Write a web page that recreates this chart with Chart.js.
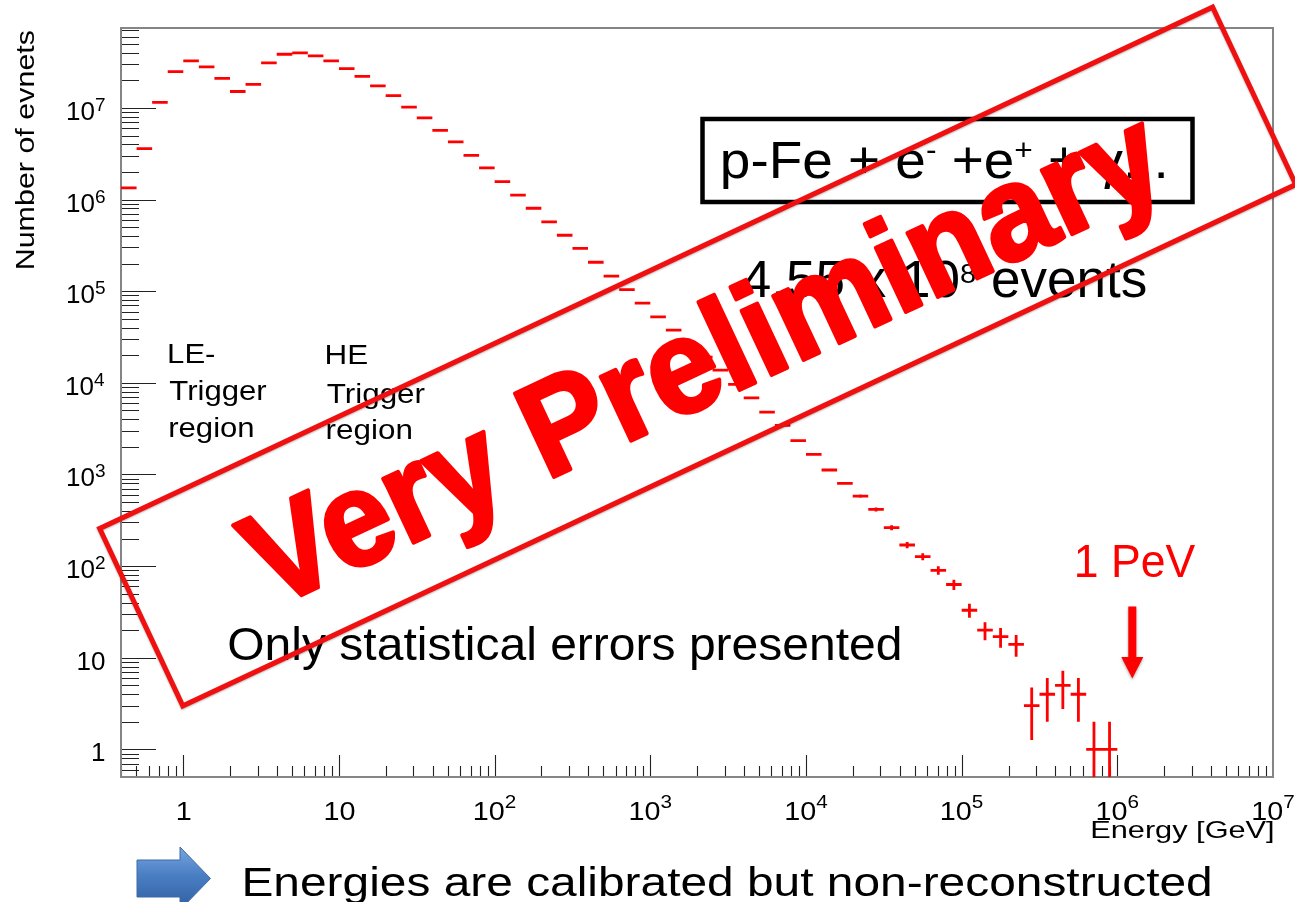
<!DOCTYPE html>
<html>
<head>
<meta charset="utf-8">
<title>Number of events vs energy</title>
<script src="https://cdn.jsdelivr.net/npm/chart.js@4.4.0/dist/chart.umd.min.js"></script>
<style>
  html, body { margin: 0; padding: 0; background: #ffffff; }
  canvas { display: block; }
</style>
</head>
<body>
<canvas id="spectrum" width="1295" height="902"></canvas>
<script>
// ---- histogram: bin centres (log10 of energy in GeV) and event counts ----
const binCentersLog10 = [
  -0.35, -0.25, -0.15, -0.05, 0.05, 0.15, 0.25, 0.35, 0.45, 0.55,
  0.65, 0.75, 0.85, 0.95, 1.05, 1.15, 1.25, 1.35, 1.45, 1.55,
  1.65, 1.75, 1.85, 1.95, 2.05, 2.15, 2.25, 2.35, 2.45, 2.55,
  2.65, 2.75, 2.85, 2.95, 3.05, 3.15, 3.25, 3.35, 3.45, 3.55,
  3.65, 3.75, 3.85, 3.95, 4.05, 4.15, 4.25, 4.35, 4.45, 4.55,
  4.65, 4.75, 4.85, 4.95, 5.05, 5.15, 5.25, 5.35, 5.45, 5.55,
  5.65, 5.75, 5.85, 5.95
];
const eventCounts = [
  1340000, 3600000, 11500000, 24900000, 32600000, 28000000, 21000000, 15100000, 18100000, 31000000,
  38500000, 39800000, 36900000, 32600000, 26800000, 22100000, 17400000, 13600000, 10200000, 7780000,
  5700000, 4260000, 3040000, 2220000, 1570000, 1120000, 804000, 571000, 408000, 293000,
  207000, 146000, 104000, 74000, 52600, 37600, 26700, 19100, 13800, 9600,
  6870, 4790, 3430, 2340, 1660, 1120, 800, 581, 416, 263,
  170, 127, 90, 63, 33, 20, 17, 14, 3, 4,
  5, 4, 1, 1
];
const binWidthLog10 = 0.1;

// ---- axis ranges and tick labels ----
const xRange = [0.398, 1e7];
const yRange = [0.5, 7.45e7];
const xTickValues = [1, 10, 100, 1e3, 1e4, 1e5, 1e6, 1e7];
const xTickLabels = ['1', '10', '10^2', '10^3', '10^4', '10^5', '10^6', '10^7'];
const yTickValues = [1, 10, 100, 1e3, 1e4, 1e5, 1e6, 1e7];
const yTickLabels = ['1', '10', '10^2', '10^3', '10^4', '10^5', '10^6', '10^7'];
const xAxisTitle = 'Energy [GeV]';
const yAxisTitle = 'Number of evnets';

const FONT = '"Liberation Sans", Arial, Helvetica, sans-serif';
const RED = '#ff0000';

// ---------- text helpers (runs allow raised exponents) ----------
function layoutRuns(ctx, runs, weight) {
  let pos = 0, inkL = Infinity, inkR = -Infinity;
  const placed = runs.map(r => {
    ctx.font = `${weight} ${r.size}px ${FONT}`;
    const m = ctx.measureText(r.text);
    const p = Object.assign({}, r, { x: pos });
    inkL = Math.min(inkL, pos - m.actualBoundingBoxLeft);
    inkR = Math.max(inkR, pos + m.actualBoundingBoxRight);
    pos += m.width;
    return p;
  });
  return { placed, inkL, inkR };
}

function drawRuns(ctx, runs, o) {
  const weight = o.weight || 'normal';
  const { placed, inkL, inkR } = layoutRuns(ctx, runs, weight);
  const sx = o.width ? o.width / (inkR - inkL) : (o.sx || 1);
  const anchor = o.align === 'right' ? inkR : (o.align === 'center' ? (inkL + inkR) / 2 : inkL);
  ctx.save();
  ctx.translate(o.x, o.y);
  if (o.rotate) ctx.rotate(o.rotate);
  ctx.scale(sx, 1);
  ctx.textAlign = 'left';
  ctx.textBaseline = 'alphabetic';
  ctx.fillStyle = o.color || '#000';
  for (const p of placed) {
    ctx.font = `${weight} ${p.size}px ${FONT}`;
    if (o.strokeWidth) {
      ctx.strokeStyle = o.color;
      ctx.lineWidth = o.strokeWidth;
      ctx.lineJoin = 'round';
      ctx.strokeText(p.text, p.x - anchor, -(p.rise || 0));
    }
    ctx.fillText(p.text, p.x - anchor, -(p.rise || 0));
  }
  ctx.restore();
  return sx;
}

function labelRuns(label, size, supSize, rise) {
  const parts = label.split('^');
  const runs = [{ text: parts[0], size }];
  if (parts.length > 1) runs.push({ text: parts[1], size: supSize, rise });
  return runs;
}

// ---------- frame, ticks and tick labels (ROOT style, ticks inside) ----------
const framePlugin = {
  id: 'frameAxes',
  afterDatasetsDraw(chart) {
    const { ctx, chartArea: a, scales: { x, y } } = chart;
    ctx.save();
    ctx.strokeStyle = '#222';
    ctx.lineWidth = 1.1;
    ctx.beginPath();
    for (let d = -1; d <= 7; d++) {
      for (let k = 1; k <= 9; k++) {
        const v = k * Math.pow(10, d);
        if (v > xRange[0] * 1.001 && v < xRange[1] * 0.999) {
          const px = Math.round(x.getPixelForValue(v)) + 0.5;
          const len = k === 1 ? 22 : 11;
          ctx.moveTo(px, a.bottom);
          ctx.lineTo(px, a.bottom - len);
        }
        if (v > yRange[0] * 1.001 && v < yRange[1] * 0.999) {
          const py = Math.round(y.getPixelForValue(v)) + 0.5;
          const len = k === 1 ? 35 : 18;
          ctx.moveTo(a.left, py);
          ctx.lineTo(a.left + len, py);
        }
      }
    }
    ctx.stroke();
    ctx.strokeStyle = '#858585';
    ctx.lineWidth = 2;
    ctx.strokeRect(a.left, a.top, a.right - a.left, a.bottom - a.top);
    ctx.restore();

    // tick labels
    xTickValues.forEach((v, i) => {
      drawRuns(ctx, labelRuns(xTickLabels[i], 25, 18, 12),
        { x: x.getPixelForValue(v) + 0.5, y: 820, align: 'center', sx: 1.15 });
    });
    yTickValues.forEach((v, i) => {
      drawRuns(ctx, labelRuns(yTickLabels[i], 26, 19, 9),
        { x: 105, y: y.getPixelForValue(v) + 12, align: 'right' });
    });

    // axis titles
    drawRuns(ctx, [{ text: xAxisTitle, size: 24 }], { x: 1272.5, y: 838, align: 'right', width: 181 });
    drawRuns(ctx, [{ text: yAxisTitle, size: 26 }], { x: 33.5, y: 268, align: 'left', width: 238, rotate: -Math.PI / 2 });
  }
};

// ---------- histogram drawn as error crosses ----------
const errorBarPlugin = {
  id: 'errorCrosses',
  afterDatasetsDraw(chart) {
    const { ctx, chartArea: a, scales: { x, y } } = chart;
    ctx.save();
    ctx.beginPath();
    ctx.rect(a.left, a.top, a.right - a.left, a.bottom - a.top);
    ctx.clip();
    ctx.strokeStyle = RED;
    ctx.lineWidth = 2.8;
    ctx.lineCap = 'butt';
    ctx.beginPath();
    binCentersLog10.forEach((c, i) => {
      const n = eventCounts[i];
      const err = Math.sqrt(n);
      const xl = x.getPixelForValue(Math.pow(10, c - binWidthLog10 / 2));
      const xr = x.getPixelForValue(Math.pow(10, c + binWidthLog10 / 2));
      const xc = x.getPixelForValue(Math.pow(10, c));
      const py = y.getPixelForValue(n);
      ctx.moveTo(xl, py);
      ctx.lineTo(xr, py);
      const yHi = y.getPixelForValue(n + err);
      const yLo = n - err > 0 ? y.getPixelForValue(n - err) : a.bottom;
      if (yLo - yHi > 1) {
        ctx.moveTo(xc, yHi);
        ctx.lineTo(xc, yLo);
      }
    });
    ctx.stroke();
    ctx.restore();
  }
};

// ---------- annotations, arrows and the stamp ----------
const annotationPlugin = {
  id: 'annotations',
  afterDraw(chart) {
    const ctx = chart.ctx;

    // trigger region notes
    const sxLE = drawRuns(ctx, [{ text: 'Trigger', size: 28 }], { x: 169.3, y: 400, width: 97 });
    drawRuns(ctx, [{ text: 'LE-', size: 28 }], { x: 169.3, y: 363.3, sx: sxLE });
    drawRuns(ctx, [{ text: 'region', size: 28 }], { x: 169.3, y: 436.7, sx: sxLE });
    const sxHE = drawRuns(ctx, [{ text: 'Trigger', size: 28 }], { x: 326.7, y: 403.3, width: 98 });
    drawRuns(ctx, [{ text: 'HE', size: 28 }], { x: 326.7, y: 364.3, sx: sxHE });
    drawRuns(ctx, [{ text: 'region', size: 28 }], { x: 326.7, y: 439, sx: sxHE });

    // reaction box
    ctx.save();
    ctx.strokeStyle = '#000';
    ctx.lineWidth = 4.5;
    ctx.strokeRect(702.5, 119, 490, 83);
    ctx.restore();
    drawRuns(ctx, [
      { text: 'p-Fe + e', size: 52 },
      { text: '-', size: 30, rise: 18 },
      { text: ' +e', size: 52 },
      { text: '+', size: 30, rise: 18 },
      { text: ' + \u03b3...', size: 52 }
    ], { x: 723, y: 178.3, width: 441 });

    drawRuns(ctx, [
      { text: '4.55 x 10', size: 51 },
      { text: '8', size: 28, rise: 14 },
      { text: ' events', size: 51 }
    ], { x: 742.7, y: 296.7, width: 403 });

    drawRuns(ctx, [{ text: 'Only statistical errors presented', size: 47 }], { x: 229.3, y: 660, width: 671 });

    // 1 PeV marker
    drawRuns(ctx, [{ text: '1 PeV', size: 47 }], { x: 1076.7, y: 576.7, width: 119, color: RED });
    ctx.save();
    ctx.shadowColor = 'rgba(0,0,0,0.35)';
    ctx.shadowBlur = 3;
    ctx.shadowOffsetY = 1.5;
    ctx.fillStyle = RED;
    ctx.beginPath();
    ctx.moveTo(1128.3, 606.5);
    ctx.lineTo(1136.3, 606.5);
    ctx.lineTo(1136.3, 657);
    ctx.lineTo(1143.3, 657);
    ctx.lineTo(1132.3, 678.5);
    ctx.lineTo(1121.3, 657);
    ctx.lineTo(1128.3, 657);
    ctx.closePath();
    ctx.fill();
    ctx.restore();

    // footer note with blue arrow
    ctx.save();
    const g = ctx.createLinearGradient(0, 846, 0, 910);
    g.addColorStop(0, '#7aa6e0');
    g.addColorStop(0.45, '#4a7fc4');
    g.addColorStop(1, '#2f5e9f');
    ctx.fillStyle = g;
    ctx.strokeStyle = '#3d6aa8';
    ctx.lineWidth = 1;
    ctx.beginPath();
    ctx.moveTo(137, 860);
    ctx.lineTo(180, 860);
    ctx.lineTo(180, 847);
    ctx.lineTo(210.5, 878.5);
    ctx.lineTo(180, 910);
    ctx.lineTo(180, 897);
    ctx.lineTo(137, 897);
    ctx.closePath();
    ctx.fill();
    ctx.stroke();
    ctx.restore();
    drawRuns(ctx, [{ text: 'Energies are calibrated but non-reconstructed', size: 40 }], { x: 245, y: 896, width: 965 });

    // stamp
    ctx.save();
    ctx.translate(697.7, 356.5);
    ctx.rotate(-25.1 * Math.PI / 180);
    ctx.save();
    ctx.shadowColor = 'rgba(0,0,0,0.3)';
    ctx.shadowBlur = 2;
    ctx.shadowOffsetY = 1;
    ctx.strokeStyle = '#f01010';
    ctx.lineWidth = 5;
    ctx.lineJoin = 'miter';
    ctx.strokeRect(-614.5, -98, 1229, 196);
    ctx.restore();
    drawRuns(ctx, [{ text: 'Very Preliminary', size: 134 }],
      { x: 4, y: 48, align: 'center', width: 995, weight: 'bold', color: RED, strokeWidth: 4 });
    ctx.restore();
  }
};

new Chart(document.getElementById('spectrum'), {
  type: 'scatter',
  data: {
    datasets: [{
      label: yAxisTitle,
      data: binCentersLog10.map((c, i) => ({ x: Math.pow(10, c), y: eventCounts[i] })),
      pointRadius: 0,
      pointHoverRadius: 0,
      showLine: false,
      borderColor: RED,
      backgroundColor: RED
    }]
  },
  options: {
    responsive: false,
    animation: false,
    devicePixelRatio: 1,
    events: [],
    layout: { padding: { left: 121, top: 28, right: 22, bottom: 125 } },
    plugins: { legend: { display: false }, tooltip: { enabled: false }, title: { display: false } },
    scales: {
      x: { type: 'logarithmic', min: xRange[0], max: xRange[1], display: false },
      y: { type: 'logarithmic', min: yRange[0], max: yRange[1], display: false }
    }
  },
  plugins: [framePlugin, errorBarPlugin, annotationPlugin]
});
</script>
</body>
</html>
